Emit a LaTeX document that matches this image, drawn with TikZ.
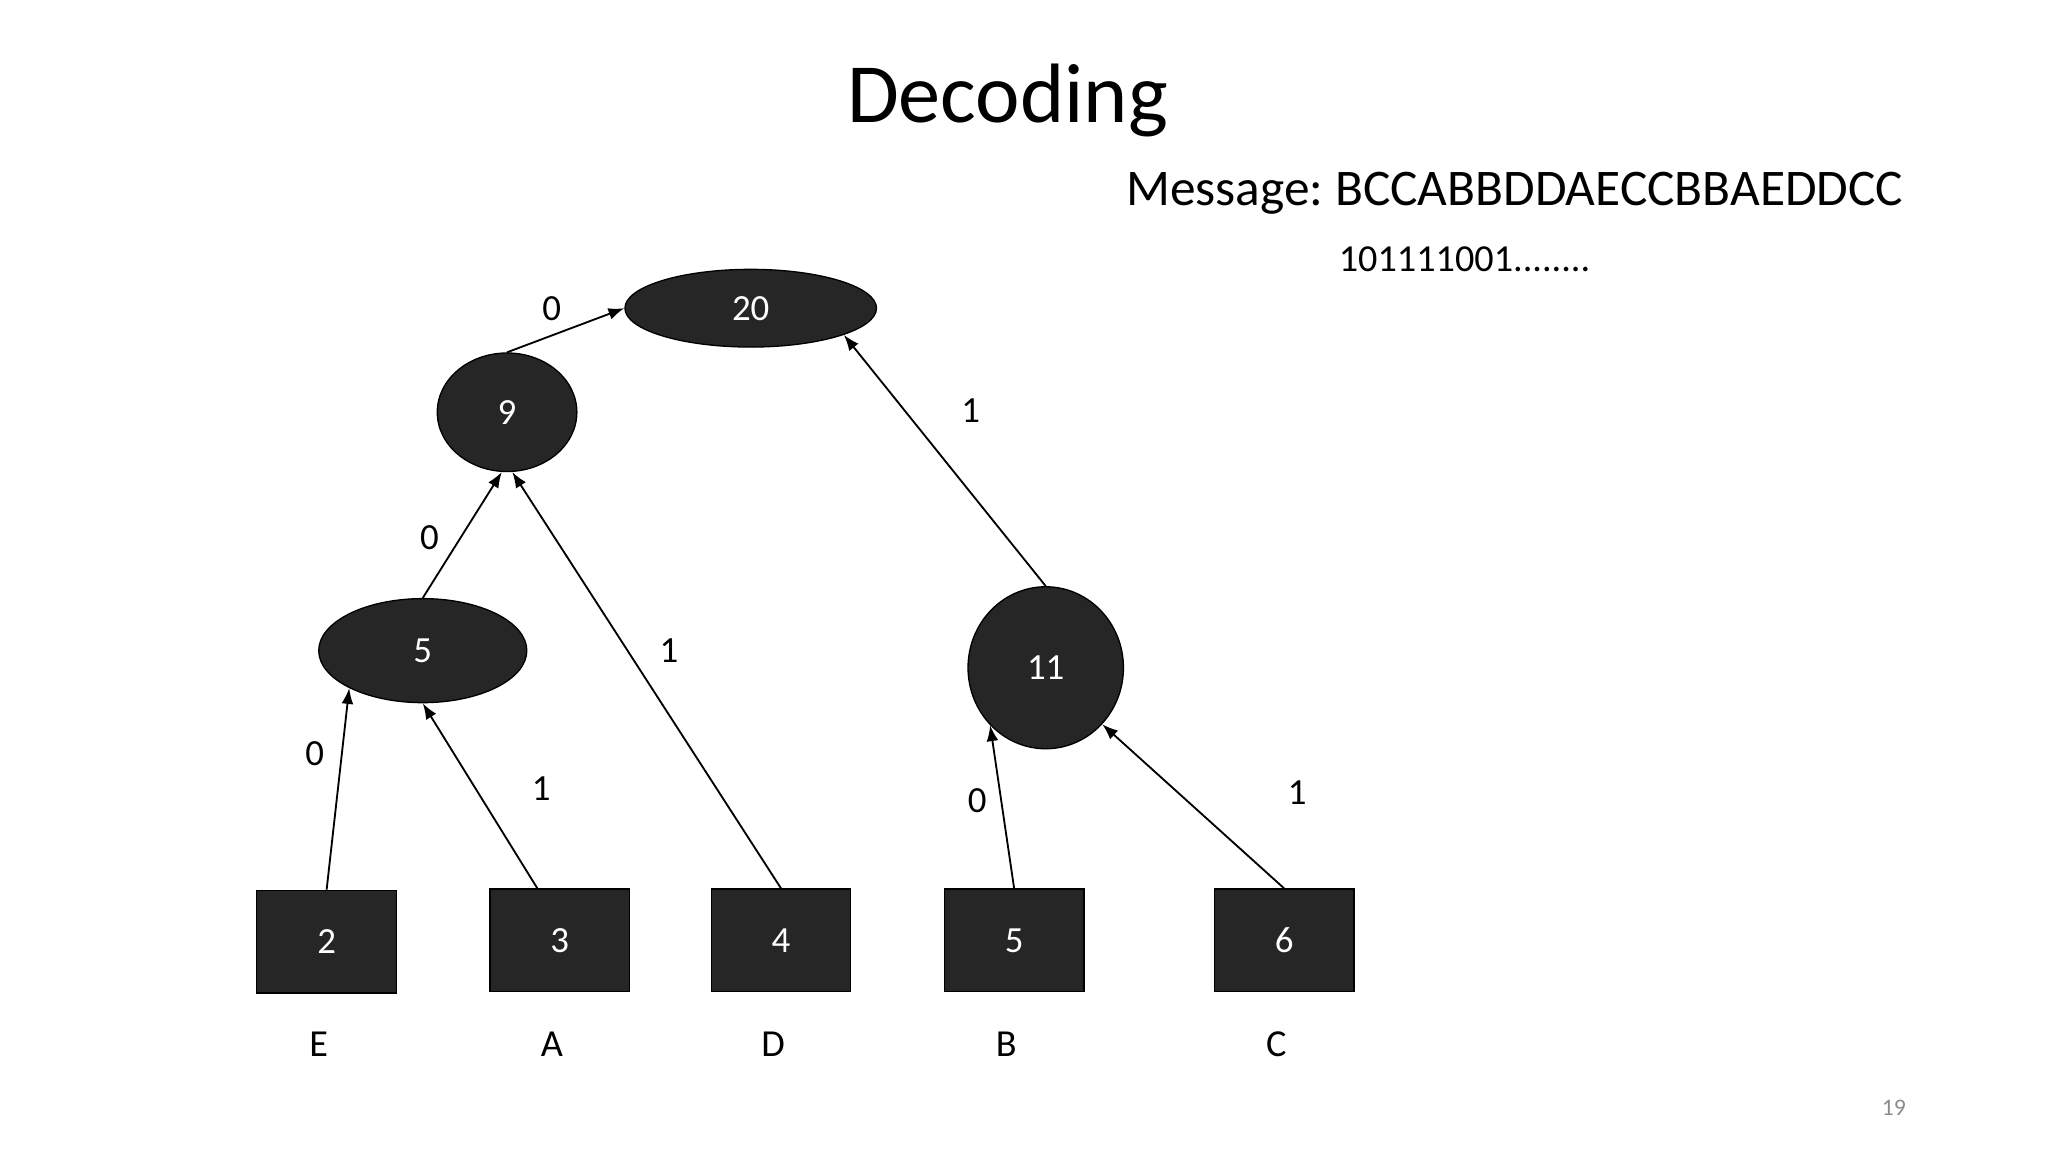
\documentclass[tikz,border=0pt]{standalone}
\usepackage{fontspec}
\setmainfont{Carlito}
\usetikzlibrary{shapes.geometric,arrows.meta,calc}
\frenchspacing
\definecolor{nodefill}{HTML}{262626}
\definecolor{pagegray}{HTML}{8C8C8C}
\tikzset{
  inode/.style={ellipse,draw=black,line width=0.5pt,fill=nodefill,text=white,inner sep=0pt,font=\fontsize{14}{16}\selectfont},
  leaf/.style={rectangle,draw=black,line width=0.5pt,fill=nodefill,text=white,inner sep=0pt,minimum width=53pt,minimum height=39pt,font=\fontsize{14}{16}\selectfont},
  lbl/.style={inner sep=0pt,font=\fontsize{14}{16}\selectfont},
  sym/.style={inner sep=0pt,font=\fontsize{14.5}{16}\selectfont},
  edge/.style={line width=0.7pt,-{Latex[length=6pt,width=4.5pt]}},
}
\begin{document}
\begin{tikzpicture}[x=0.5pt,y=-0.5pt]
\useasboundingbox[fill=white] (0,0) rectangle (1555,875);
% title and texts
\node[inner sep=0pt,anchor=base,font=\fontsize{32}{36}\selectfont] (title) at (765,93) {Decoding};
\node[inner sep=0pt,anchor=base,font=\fontsize{19.5}{22}\selectfont] (msg) at (1150,156) {\frenchspacing Message: BCCABBDDAECCBBAEDDCC};
\node[inner sep=0pt,anchor=base,font=\fontsize{14.5}{17}\selectfont] (bits) at (1112,206) {101111001........};
\node[inner sep=0pt,text=pagegray,font=\fontsize{9}{11}\selectfont] (pg) at (1438,841) {19};
% internal nodes
\node[inode,minimum width=95.5pt,minimum height=29.5pt] (e20) at (570,234) {20};
\node[inode,minimum width=53pt,minimum height=45pt] (e9) at (385,313) {9};
\node[inode,minimum width=79pt,minimum height=39.5pt] (e5) at (321,494) {5};
\node[inode,minimum width=59pt,minimum height=61.5pt] (e11) at (794,507) {11};
% leaves
\node[leaf] (n2) at (248,715) {2};
\node[leaf] (n3) at (425,714) {3};
\node[leaf] (n4) at (593,714) {4};
\node[leaf] (n5) at (770,714) {5};
\node[leaf] (n6) at (975,714) {6};
% symbols
\node[sym] (sE) at (242,793) {E};
\node[sym] (sA) at (419,793) {A};
\node[sym] (sD) at (587,793) {D};
\node[sym] (sB) at (764,793) {B};
\node[sym] (sC) at (969,793) {C};
% edges
\draw[edge] (e9.north) -- (e20.west);
\draw[edge] (e11.north) -- (e20.-16);
\draw[edge] (e5.north) -- (e9.265);
\draw[edge] (n4.north) -- (e9.275);
\draw[edge] (n2.north) -- (e5.207);
\draw[edge] ($(n3.north)+(-17,0)$) -- (e5.270);
\draw[edge] (n5.north) -- (e11.226);
\draw[edge] (n6.north) -- (e11.-45);
% edge labels
\node[lbl] (l1) at (419,234) {0};
\node[lbl] (l2) at (737,312) {1};
\node[lbl] (l3) at (326,408) {0};
\node[lbl] (l4) at (508,494) {1};
\node[lbl] (l5) at (239,572) {0};
\node[lbl] (l6) at (411,599) {1};
\node[lbl] (l7) at (742,608) {0};
\node[lbl] (l8) at (985,602) {1};
\end{tikzpicture}
\end{document}
